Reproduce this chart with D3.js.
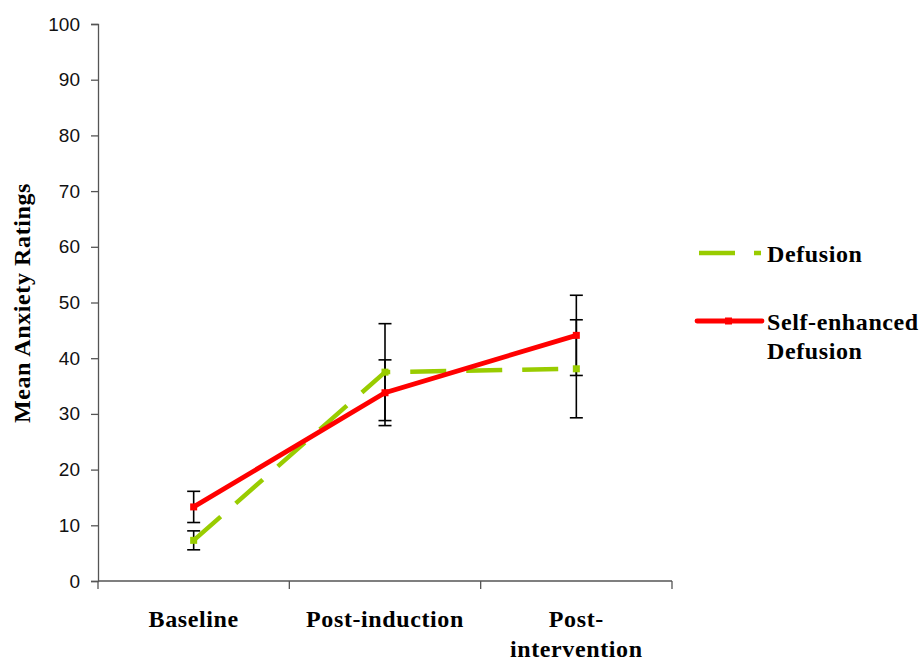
<!DOCTYPE html>
<html>
<head>
<meta charset="utf-8">
<script src="https://cdn.jsdelivr.net/npm/d3@7"></script>
<style>
  body { margin: 0; background: #fff; }
  svg { display: block; }
  .tick-label { font-family: "Liberation Sans", Arial, sans-serif; font-size: 19px; fill: #111; }
  .serif-bold { font-family: "Liberation Serif", "Times New Roman", serif; font-weight: bold; font-size: 24px; fill: #000; letter-spacing: 0.6px; }
</style>
</head>
<body>
<svg id="chart" width="924" height="661"></svg>
<script>
// data
const categories = ["Baseline", "Post-induction", "Post-intervention"];
const categoryLines = [["Baseline"], ["Post-induction"], ["Post-", "intervention"]];
const yTicks = [0, 10, 20, 30, 40, 50, 60, 70, 80, 90, 100];

const defusionMean = [7.3, 37.5, 38.1];
const defusionErr = [1.7, 8.7, 8.8];
const selfEnhancedMean = [13.3, 33.8, 44.1];
const selfEnhancedErr = [2.8, 5.9, 7.2];

const seriesNames = ["Defusion", "Self-enhanced Defusion"];

const svg = d3.select("#chart");

const x = d3.scaleBand().domain(categories).range([98, 672]);
const y = d3.scaleLinear().domain([0, 100]).range([581, 24]);
const cx = c => x(c) + x.bandwidth() / 2;

const axisColor = "#555";

// y axis
const yAxis = svg.append("g")
  .attr("transform", "translate(98,0)")
  .call(d3.axisLeft(y).tickValues(yTicks).tickSize(7).tickPadding(11));
yAxis.select(".domain").attr("stroke", axisColor).attr("stroke-width", 1.3);
yAxis.selectAll(".tick line").attr("stroke", axisColor).attr("stroke-width", 1.3);
yAxis.selectAll(".tick text").attr("class", "tick-label").attr("font-size", null).attr("font-family", null);

// x axis: ticks between categories
svg.append("line")
  .attr("x1", 98).attr("x2", 672)
  .attr("y1", y(0)).attr("y2", y(0))
  .attr("stroke", axisColor).attr("stroke-width", 1.3);
svg.append("g").selectAll("line")
  .data(categories.map(c => x(c)).concat([x(categories[2]) + x.bandwidth()]))
  .join("line")
  .attr("x1", d => d).attr("x2", d => d)
  .attr("y1", y(0)).attr("y2", y(0) + 8)
  .attr("stroke", axisColor).attr("stroke-width", 1.3);

// category labels
const catLabels = svg.append("g");
categories.forEach((c, i) => {
  const t = catLabels.append("text")
    .attr("class", "serif-bold")
    .attr("text-anchor", "middle")
    .attr("x", cx(c))
    .attr("y", 627);
  categoryLines[i].forEach((line, j) => {
    t.append("tspan").attr("x", cx(c)).attr("dy", j === 0 ? 0 : 30).text(line);
  });
});

// y axis title
svg.append("text")
  .attr("class", "serif-bold")
  .attr("text-anchor", "middle")
  .attr("transform", "translate(30,303) rotate(-90)")
  .text("Mean Anxiety Ratings");

// error bars
function drawErrors(means, errs) {
  const g = svg.append("g");
  means.forEach((m, i) => {
    const px = cx(categories[i]);
    const top = y(m + errs[i]);
    const bot = y(m - errs[i]);
    g.append("line").attr("x1", px).attr("x2", px).attr("y1", top).attr("y2", bot)
      .attr("stroke", "#000").attr("stroke-width", 1.6);
    [top, bot].forEach(yy => {
      g.append("line").attr("x1", px - 6.5).attr("x2", px + 6.5).attr("y1", yy).attr("y2", yy)
        .attr("stroke", "#000").attr("stroke-width", 1.6);
    });
  });
}
drawErrors(defusionMean, defusionErr);
drawErrors(selfEnhancedMean, selfEnhancedErr);

const line = d3.line().x((d, i) => cx(categories[i])).y(d => y(d));

const green = "#99cc00";
const red = "#ff0000";

// Defusion (dashed)
svg.append("path")
  .datum(defusionMean)
  .attr("d", line)
  .attr("fill", "none")
  .attr("stroke", green)
  .attr("stroke-width", 4.5)
  .attr("stroke-dasharray", "36,20");
svg.append("g").selectAll("rect")
  .data(defusionMean)
  .join("rect")
  .attr("x", (d, i) => cx(categories[i]) - 3.5)
  .attr("y", d => y(d) - 3.5)
  .attr("width", 7).attr("height", 7)
  .attr("fill", green);

// Self-enhanced Defusion (solid)
svg.append("path")
  .datum(selfEnhancedMean)
  .attr("d", line)
  .attr("fill", "none")
  .attr("stroke", red)
  .attr("stroke-width", 4.8);
svg.append("g").selectAll("rect")
  .data(selfEnhancedMean)
  .join("rect")
  .attr("x", (d, i) => cx(categories[i]) - 3.5)
  .attr("y", d => y(d) - 3.5)
  .attr("width", 7).attr("height", 7)
  .attr("fill", red);

// legend
const legend = svg.append("g");
legend.append("line")
  .attr("x1", 699).attr("x2", 761).attr("y1", 253).attr("y2", 253)
  .attr("stroke", green).attr("stroke-width", 4.5).attr("stroke-dasharray", "36,19");
legend.append("text").attr("class", "serif-bold")
  .attr("x", 767).attr("y", 262).text(seriesNames[0]);

legend.append("line")
  .attr("x1", 697).attr("x2", 762).attr("y1", 321).attr("y2", 321)
  .attr("stroke", red).attr("stroke-width", 4.8).attr("stroke-linecap", "round");
legend.append("rect")
  .attr("x", 725).attr("y", 317.5).attr("width", 7).attr("height", 7).attr("fill", red);
const lt = legend.append("text").attr("class", "serif-bold").attr("x", 767).attr("y", 330);
lt.append("tspan").attr("x", 767).attr("dy", 0).text("Self-enhanced");
lt.append("tspan").attr("x", 767).attr("dy", 29).text("Defusion");
</script>
</body>
</html>
